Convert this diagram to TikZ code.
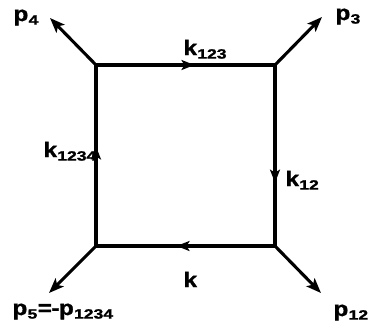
\documentclass[tikz,border=0pt]{standalone}
\usepackage{fontspec}
\setmainfont{Liberation Sans}[FakeStretch=1.15,BoldFeatures={FakeBold=1.6}]
\newfontfamily\subf{Liberation Sans}[FakeStretch=1.3,BoldFeatures={FakeBold=1.4}]
\usetikzlibrary{arrows.meta,decorations.markings}
\newcommand{\lbl}[2]{#1\kern0.3pt\raisebox{-3.6pt}{\subf\bfseries\fontsize{13.5}{13.5}\selectfont #2}}
\begin{document}
\begin{tikzpicture}[x=1pt,y=-1pt,line width=3.1pt,
  outtip/.style={-{Stealth[length=15pt,width=11.5pt,inset=3.5pt]}},
  mid/.style={postaction={decorate},decoration={markings,
     mark=at position #1 with {\arrow{Stealth[length=13pt,width=10pt,inset=3pt]}}}},
  lab/.style={font=\fontsize{21}{21}\selectfont\bfseries,inner sep=0pt,anchor=base west}]
\useasboundingbox (0,0) rectangle (369,330);
% corners
\coordinate (tl) at (96,65);
\coordinate (tr) at (275,65);
\coordinate (br) at (275,246);
\coordinate (bl) at (96,246);
% external ends
\coordinate (e4) at (50,18);
\coordinate (e3) at (322,17);
\coordinate (e5) at (49,293);
\coordinate (e12) at (321,293);
% square edges
\draw[mid=0.55,line cap=rect] (tl) -- (tr);
\draw[mid=0.65,line cap=rect] (tr) -- (br);
\draw[mid=0.55,line cap=rect] (br) -- (bl);
\draw[mid=0.55,line cap=rect] (bl) -- (tl);
% external legs
\draw[outtip] (tl) -- (e4);
\draw[outtip] (tr) -- (e3);
\draw[outtip] (bl) -- (e5);
\draw[outtip] (br) -- (e12);
% labels
\node[lab] (lp4) at (12,21) {\lbl{p}{4}};
\node[lab] (lk123) at (182,55) {\lbl{k}{123}};
\node[lab] (lp3) at (334,20) {\lbl{p}{3}};
\node[lab] (lk12) at (284,186) {\lbl{k}{12}};
\node[lab] (lk1234) at (42,157) {\lbl{k}{1234}};
\node[lab] (lk) at (182,287) {k};
\node[lab] (lp5) at (11,315) {\lbl{p}{5}\kern0.5pt=\kern-0.5pt-\kern-0.5pt\lbl{p}{1234}};
\node[lab] (lp12) at (332,316) {\lbl{p}{12}};
\end{tikzpicture}
\end{document}
